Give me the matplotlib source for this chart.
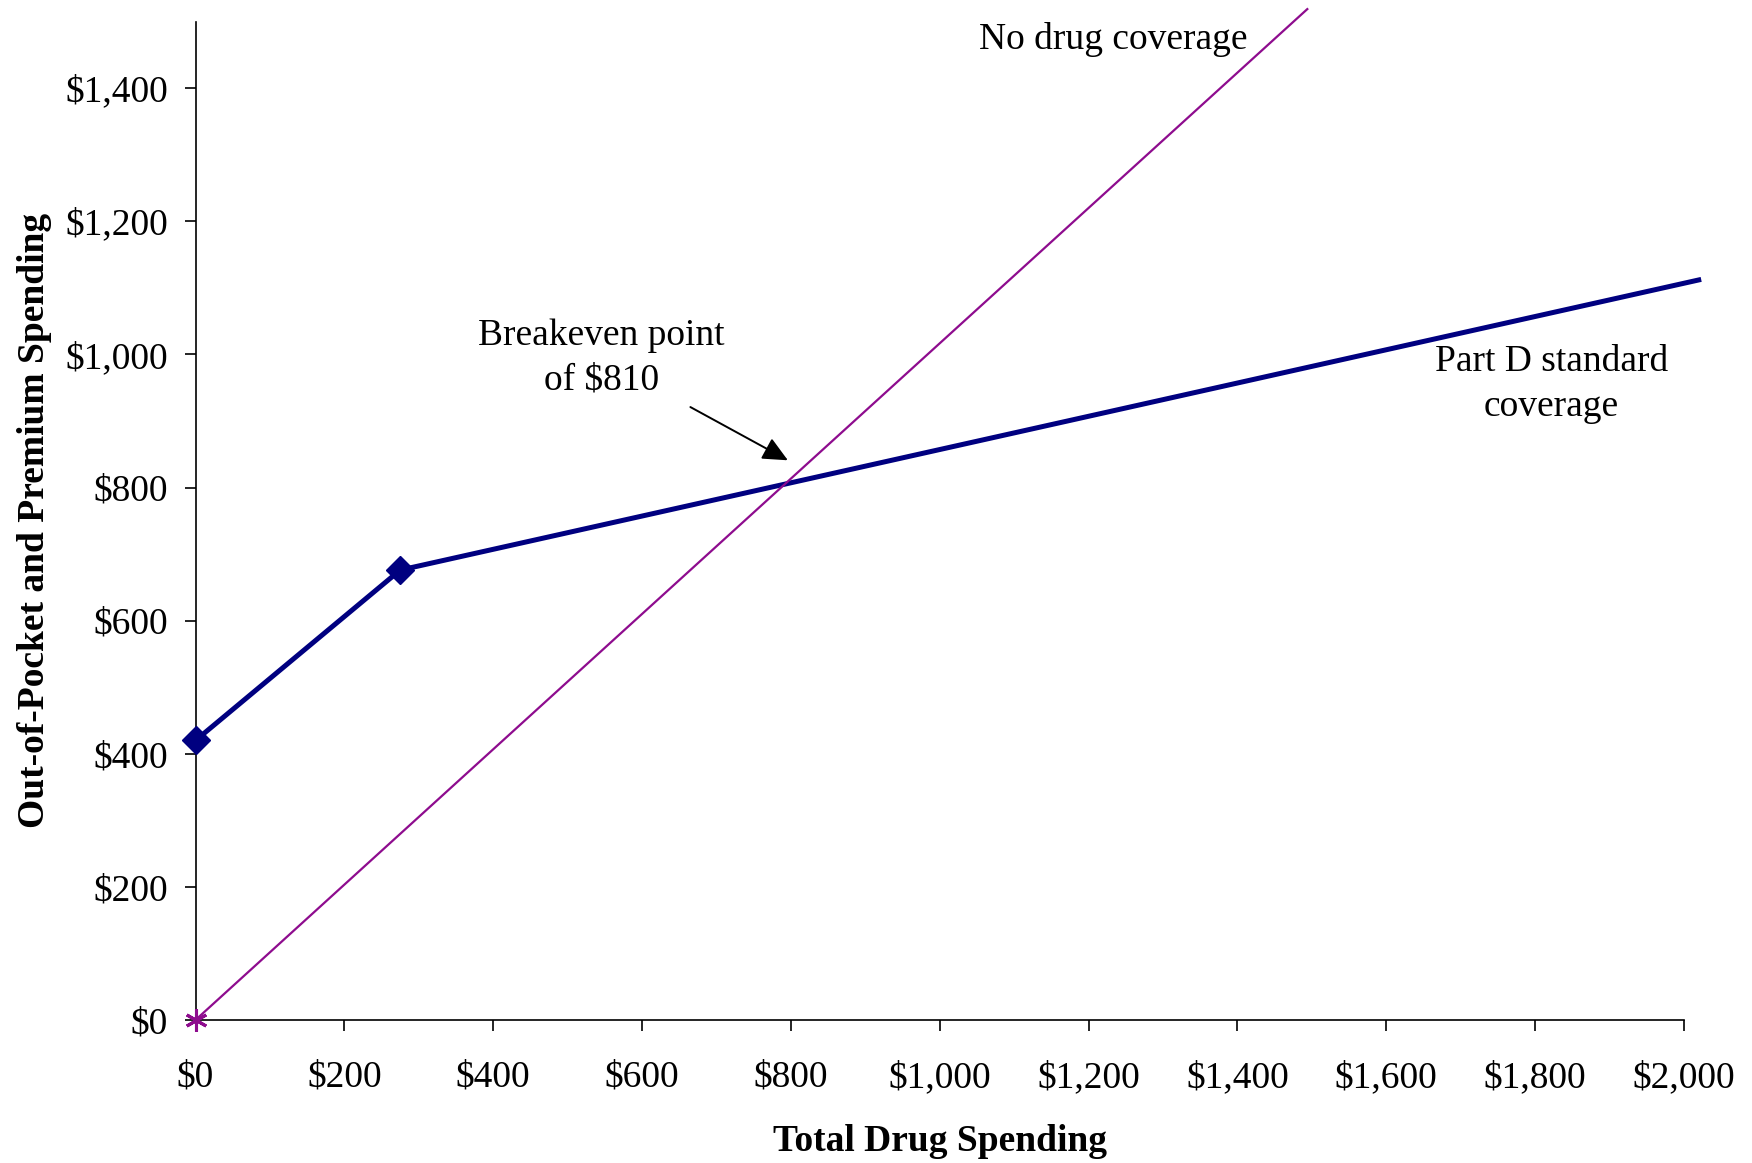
import matplotlib.pyplot as plt
from matplotlib.ticker import FuncFormatter

plt.rcParams['font.family'] = ['Liberation Serif', 'DejaVu Serif']

# Part D standard coverage: premium + deductible, then coinsurance
part_d_x = [0, 275, 2020]
part_d_y = [420, 676, 1112]

# No drug coverage: pay every dollar out of pocket
no_cov_x = [0, 1494]
no_cov_y = [0, 1519]

x_ticks = [0, 200, 400, 600, 800, 1000, 1200, 1400, 1600, 1800, 2000]
y_ticks = [0, 200, 400, 600, 800, 1000, 1200, 1400]

NAVY = "#000080"
PURPLE = "#8E0C8E"
FS = 27

fig = plt.figure(figsize=(17.52, 11.63), dpi=100)
ax = fig.add_axes([0.1116, 0.1230, 0.8495, 0.8583])

ax.plot(no_cov_x, no_cov_y, color=PURPLE, lw=1.6, marker=(6, 2, 0),
        markevery=[0], ms=16, mew=2.2, clip_on=False, zorder=5)
ax.plot(part_d_x, part_d_y, color=NAVY, lw=3.6, marker="D", markevery=[0, 1],
        ms=14, clip_on=False, zorder=4)

ax.set_xlim(0, 2000)
ax.set_ylim(0, 1500)
ax.set_xticks(x_ticks)
ax.set_yticks(y_ticks)
money = FuncFormatter(lambda v, p: "${:,.0f}".format(v))
ax.xaxis.set_major_formatter(money)
ax.yaxis.set_major_formatter(money)
ax.tick_params(axis="both", direction="out", length=8, width=1.2,
               labelsize=FS, color="black")
ax.tick_params(axis="x", pad=21)
ax.tick_params(axis="y", pad=12)

for s in ("top", "right"):
    ax.spines[s].set_visible(False)
for s in ("left", "bottom"):
    ax.spines[s].set_linewidth(1.2)

ax.set_xlabel("Total Drug Spending", fontsize=FS, fontweight="bold", labelpad=21)
ax.set_ylabel("Out-of-Pocket and Premium Spending", fontsize=FS,
              fontweight="bold", labelpad=9)

ax.text(1233, 1474, "No drug coverage", fontsize=FS, ha="center", va="center")
ax.text(1822, 955, "Part D standard\ncoverage", fontsize=FS, ha="center",
        va="center", linespacing=1.4)
ax.text(545, 995, "Breakeven point\nof $810", fontsize=FS, ha="center",
        va="center", linespacing=1.4)
ax.annotate("", xy=(796, 841), xytext=(665, 921),
            arrowprops=dict(arrowstyle="-|>,head_length=0.9,head_width=0.42",
                            mutation_scale=17, color="black", lw=1.4,
                            shrinkA=0, shrinkB=0))

fig.savefig("out.png", dpi=100, facecolor="white")
